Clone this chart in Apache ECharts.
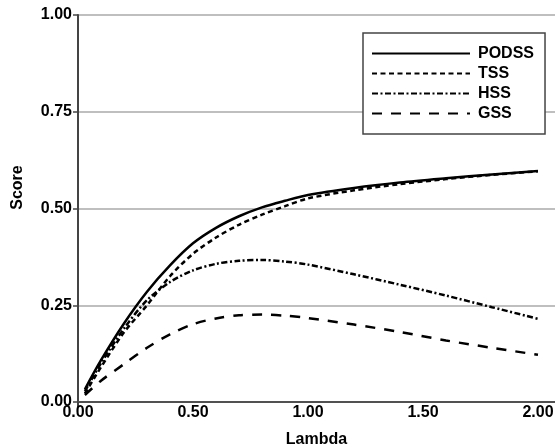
<!DOCTYPE html>
<html>
<head>
<meta charset="utf-8">
<script src="https://cdn.jsdelivr.net/npm/echarts@6/dist/echarts.min.js"></script>
<style>
  html, body { margin: 0; padding: 0; background: #fff; }
  #chart { width: 555px; height: 447px; }
</style>
</head>
<body>
<div id="chart"></div>
<script>
// Lambda sample points and skill scores for each measure
const lambda = [0.03, 0.1, 0.2, 0.3, 0.4, 0.5, 0.6, 0.7, 0.8, 0.9, 1.0, 1.2, 1.4, 1.6, 1.8, 2.0];
const podss = [0.033, 0.108, 0.203, 0.285, 0.353, 0.41, 0.45, 0.48, 0.503, 0.52, 0.535, 0.553, 0.567, 0.578, 0.588, 0.597];
const tss   = [0.022, 0.090, 0.180, 0.250, 0.325, 0.383, 0.425, 0.458, 0.484, 0.506, 0.526, 0.547, 0.563, 0.576, 0.587, 0.596];
const hss   = [0.028, 0.100, 0.190, 0.263, 0.310, 0.340, 0.357, 0.365, 0.367, 0.363, 0.355, 0.330, 0.303, 0.275, 0.245, 0.215];
const gss   = [0.018, 0.055, 0.098, 0.140, 0.175, 0.201, 0.216, 0.224, 0.226, 0.223, 0.217, 0.200, 0.181, 0.159, 0.140, 0.122];

const seriesNames = ['PODSS', 'TSS', 'HSS', 'GSS'];
const seriesValues = [podss, tss, hss, gss];
const dashStyles = ['solid', [5, 3.5], [6, 2.5, 2, 2.5], [10, 9]];

const FONT = '"Liberation Sans", Arial, Helvetica, sans-serif';
const textBold = { fontFamily: FONT, fontWeight: 'bold', fontSize: 16, color: '#000' };

const chart = echarts.init(document.getElementById('chart'));

chart.setOption({
  animation: false,
  backgroundColor: '#fff',
  grid: { left: 78, right: 0, top: 15, bottom: 45, containLabel: false, outerBoundsMode: 'none' },
  legend: {
    orient: 'vertical',
    left: 363,
    top: 33,
    data: seriesNames,
    itemWidth: 98,
    itemHeight: 15,
    itemGap: 4,
    padding: [12.5, 11, 12.5, 8],
    borderColor: '#444',
    borderWidth: 1.5,
    backgroundColor: '#fff',
    itemStyle: { opacity: 0 },
    textStyle: Object.assign({}, textBold, { lineHeight: 15, padding: [0, 0, 0, 3] })
  },
  xAxis: [{
    type: 'value',
    min: 0,
    max: 2.074,
    interval: 0.5,
    name: 'Lambda',
    nameLocation: 'middle',
    nameGap: 30,
    nameTextStyle: textBold,
    axisLine: { onZero: false, lineStyle: { color: '#444', width: 2 } },
    axisTick: { show: true, customValues: [0], length: 5, lineStyle: { color: '#444', width: 2 } },
    axisLabel: Object.assign({
      showMaxLabel: false,
      margin: 3,
      formatter: v => v.toFixed(2)
    }, textBold),
    splitLine: { show: true, lineStyle: { color: '#aaa', width: 1.5 } }
  }, {
    type: 'value',
    position: 'top',
    min: 0,
    max: 2.074,
    axisLine: { show: true, lineStyle: { color: '#555', width: 1.5 } },
    axisTick: { show: false },
    axisLabel: { show: false },
    splitLine: { show: false }
  }],
  yAxis: {
    type: 'value',
    min: 0,
    max: 1,
    interval: 0.25,
    name: 'Score',
    nameLocation: 'middle',
    nameGap: 52,
    nameTextStyle: Object.assign({ padding: [0, 0, 0, 42] }, textBold),
    axisLine: { show: true, lineStyle: { color: '#444', width: 2 } },
    axisTick: { show: true, length: 5, lineStyle: { color: '#444', width: 1.5 } },
    axisLabel: Object.assign({
      margin: 6,
      formatter: v => v.toFixed(2)
    }, textBold),
    splitLine: { show: true, lineStyle: { color: '#aaa', width: 1.5 } }
  },
  series: seriesNames.map((name, i) => ({
    name: name,
    type: 'line',
    xAxisIndex: 0,
    smooth: 0.3,
    symbol: 'none',
    color: '#000',
    lineStyle: { color: '#000', width: 2.5, type: dashStyles[i] },
    data: lambda.map((x, j) => [x, seriesValues[i][j]])
  }))
});
</script>
</body>
</html>
